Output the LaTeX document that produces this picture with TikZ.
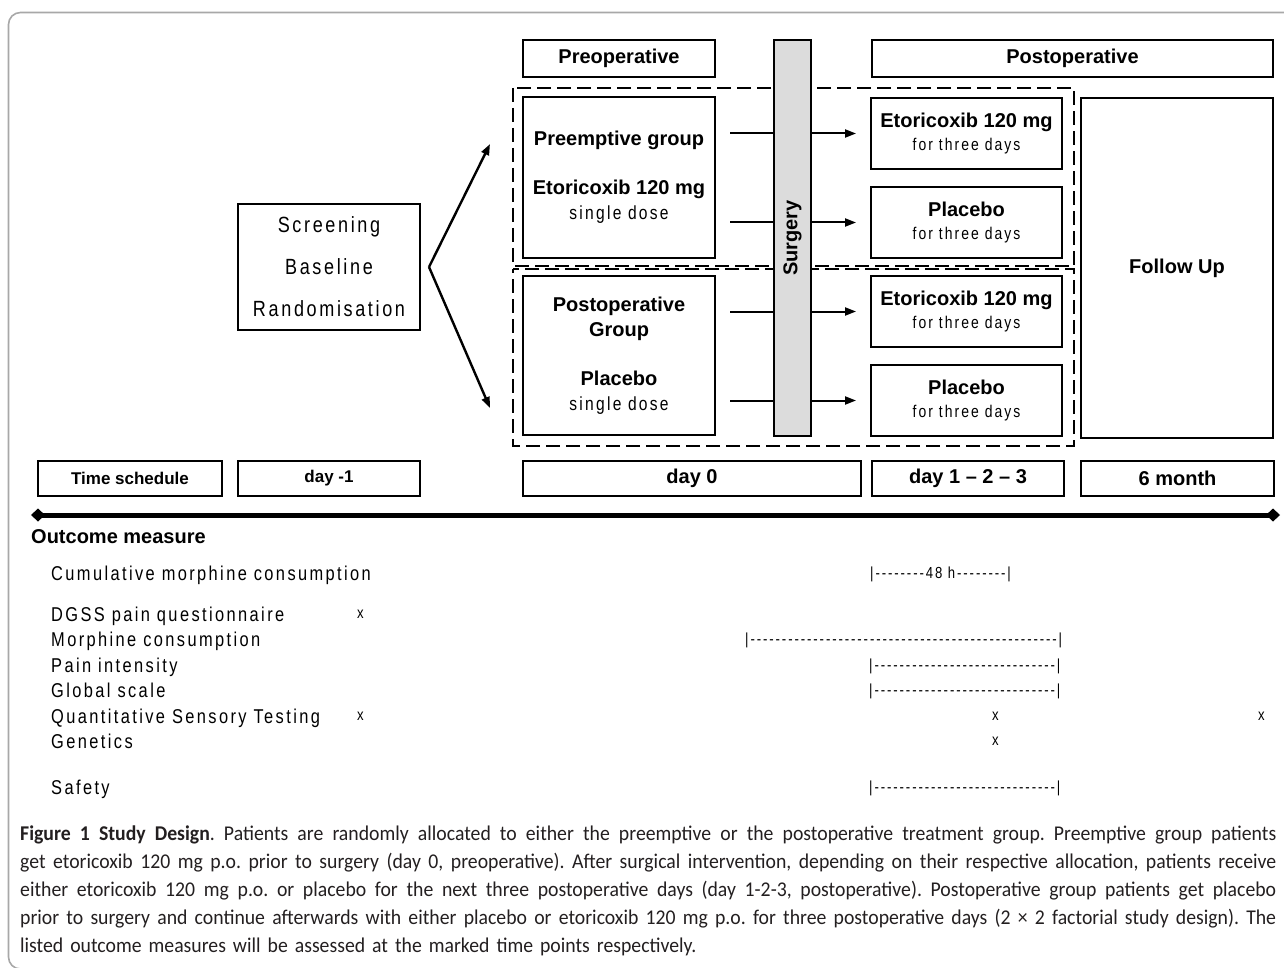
\documentclass[tikz,border=0pt]{standalone}
\usepackage{fontspec}
\setmainfont{Liberation Sans}
\newfontfamily\narrowfont[FakeStretch=0.82, LetterSpace=12, Ligatures=TeXOff]{Liberation Sans}
\newfontfamily\capfont[FakeStretch=0.94]{Carlito}
\usepackage{tikz}
\usetikzlibrary{arrows.meta, positioning, calc}
\definecolor{framegray}{HTML}{A8A8A8}
\definecolor{barfill}{HTML}{DCDCDC}
\definecolor{captext}{HTML}{231F20}
\newcommand\dashes[1]{\foreach\k in {1,...,#1}{-}}
\newcommand\capline[1]{\hbox to 1256pt{\spaceskip=\fontdimen2\font plus 1fil minus 1pt\relax #1}}
\frenchspacing

\begin{document}
\begin{tikzpicture}[x=1pt, y=-1pt, >={Triangle[length=11pt, width=8pt]},
  box/.style={draw, line width=2pt, inner sep=0pt, align=center},
  boldtxt/.style={font=\fontsize{20}{25}\selectfont\bfseries},
  smallbold/.style={font=\fontsize{17}{20}\selectfont\bfseries},
  dashbox/.style={line width=2.8pt, dash pattern=on 14pt off 6pt},
  flow/.style={line width=2pt},
  itemtxt/.style={anchor=base west, inner sep=0pt, font=\narrowfont\fontsize{20}{24}\selectfont},
  rangetxt/.style={anchor=base west, inner sep=0pt, font=\narrowfont\fontsize{16}{18}\selectfont}]

  \useasboundingbox (0,0) rectangle (1284,968);
  \clip (0,0) rectangle (1284,968);
  \draw[framegray, line width=1.6pt, rounded corners=12pt] (8.5,12.5) rectangle (1320,969);

  % treatment arms
  \draw[dashbox] (513,88) rectangle (1074,266);
  \draw[dashbox, dash phase=10pt] (513,269) rectangle (1074,446);

  \node[box, boldtxt, minimum width=192pt, minimum height=37pt] (preop) at (619,58.5) {Preoperative};
  \node[box, boldtxt, minimum width=401pt, minimum height=37pt] (postop) at (1072.5,58.5) {Postoperative};
  \node[box, boldtxt, fill=barfill, minimum width=37pt, minimum height=396pt] (surgery) at (792.5,238) {\rotatebox{90}{Surgery}};

  \node[box, font=\fontsize{20}{25}\selectfont, minimum width=192pt, minimum height=161pt] (pregrp) at (619,177.5)
    {\textbf{Preemptive group}\\[24pt] \textbf{Etoricoxib 120 mg}\\ {\narrowfont\fontsize{19}{25}\selectfont single dose}};
  \node[box, font=\fontsize{20}{25}\selectfont, minimum width=192pt, minimum height=159pt] (postgrp) at (619,355.5)
    {\textbf{Postoperative}\\ \textbf{Group}\\[24pt] \textbf{Placebo}\\ {\narrowfont\fontsize{19}{25}\selectfont single dose}};

  \node[box, font=\fontsize{20}{23}\selectfont, minimum width=191pt, minimum height=71pt] (etoA) at (966.5,133.5)
    {\textbf{Etoricoxib 120 mg}\\ {\narrowfont\fontsize{17}{23}\selectfont for three days}};
  \node[box, font=\fontsize{20}{23}\selectfont, minimum width=191pt, minimum height=71pt, below=16pt of etoA] (placA)
    {\textbf{Placebo}\\ {\narrowfont\fontsize{17}{23}\selectfont for three days}};
  \node[box, font=\fontsize{20}{23}\selectfont, minimum width=191pt, minimum height=71pt, below=16pt of placA] (etoB)
    {\textbf{Etoricoxib 120 mg}\\ {\narrowfont\fontsize{17}{23}\selectfont for three days}};
  \node[box, font=\fontsize{20}{23}\selectfont, minimum width=191pt, minimum height=71pt, below=16pt of etoB] (placB)
    {\textbf{Placebo}\\ {\narrowfont\fontsize{17}{23}\selectfont for three days}};

  \node[box, boldtxt, minimum width=192pt, minimum height=340pt] (follow) at (1177,268) {Follow Up};

  \node[box, font=\narrowfont\fontsize{22}{42}\selectfont, minimum width=182pt, minimum height=126pt] (screen) at (329,267)
    {Screening\\ Baseline\\ Randomisation};

  \coordinate (fork) at ($(screen.east)+(8,0)$);
  \coordinate (toppre) at (490,144);
  \coordinate (toppost) at (490,408);
  \draw[->, line width=2.4pt] (fork) -- (toppre);
  \draw[->, line width=2.4pt] (fork) -- (toppost);

  \draw[flow] ($(pregrp.east |- etoA)+(14,0)$) -- (surgery.west |- etoA);
  \draw[flow, ->] (surgery.east |- etoA) -- ($(etoA.west)+(-14,0)$);
  \draw[flow] ($(pregrp.east |- placA)+(14,0)$) -- (surgery.west |- placA);
  \draw[flow, ->] (surgery.east |- placA) -- ($(placA.west)+(-14,0)$);
  \draw[flow] ($(postgrp.east |- etoB)+(14,0)$) -- (surgery.west |- etoB);
  \draw[flow, ->] (surgery.east |- etoB) -- ($(etoB.west)+(-14,0)$);
  \draw[flow] ($(postgrp.east |- placB)+(14,0)$) -- (surgery.west |- placB);
  \draw[flow, ->] (surgery.east |- placB) -- ($(placB.west)+(-14,0)$);

  % time schedule
  \node[box, smallbold, minimum width=184pt, minimum height=35pt] (tsched) at (130,478.5) {Time schedule};
  \node[box, smallbold, minimum width=182pt, minimum height=35pt, right=14pt of tsched] (dayminus) {day -1};
  \node[box, boldtxt, minimum width=338pt, minimum height=35pt] (day0) at (692,478.5) {day 0};
  \node[box, boldtxt, minimum width=192pt, minimum height=35pt, right=9pt of day0] (day123) {day 1 – 2 – 3};
  \node[box, boldtxt, minimum width=193pt, minimum height=35pt, right=15pt of day123] (sixmo) {6 month};

  \coordinate (tlstart) at (31,515);
  \coordinate (tlend) at (1280,515);
  \draw[line width=5pt, {Diamond[length=14pt, width=13pt]}-{Diamond[length=14pt, width=13pt]}] (tlstart) -- (tlend);

  % outcome measures
  \node[anchor=base west, inner sep=0pt, boldtxt] (outcome) at (31,543) {Outcome measure};
  \node[itemtxt] (om-cum) at (51,580) {Cumulative morphine consumption};
  \node[itemtxt] (om-dgss) at (51,621) {DGSS pain questionnaire};
  \node[itemtxt] (om-morph) at (51,646) {Morphine consumption};
  \node[itemtxt] (om-pain) at (51,672) {Pain intensity};
  \node[itemtxt] (om-glob) at (51,697) {Global scale};
  \node[itemtxt] (om-qst) at (51,723) {Quantitative Sensory Testing};
  \node[itemtxt] (om-gen) at (51,748) {Genetics};
  \node[itemtxt] (om-safe) at (51,794) {Safety};

  \node[rangetxt] (r-cum) at (870,578) {|\dashes{8}48 h\dashes{8}|};
  \node[rangetxt] (r-morph) at (745,644) {|\dashes{49}|};
  \node[rangetxt] (r-pain) at (869,670) {|\dashes{29}|};
  \node[rangetxt] (r-glob) at (869,695) {|\dashes{29}|};
  \node[rangetxt] (r-safe) at (869,792) {|\dashes{29}|};

  \node[rangetxt] (mk-dgss) at (357,618) {x};
  \node[rangetxt] (mk-qst0) at (357,720) {x};
  \node[rangetxt] (mk-qst3) at (992,720) {x};
  \node[rangetxt] (mk-qst6) at (1258,720) {x};
  \node[rangetxt] (mk-gen) at (992,745) {x};

  % caption
  \node[anchor=base west, inner sep=0pt, text width=1256pt, text=captext,
        font=\capfont\fontsize{21}{28}\selectfont] (caption) at (20,840)
    {\capline{\textbf{Figure 1 Study Design}. Patients are randomly allocated to either the preemptive or the postoperative treatment group. Preemptive group patients}
     \capline{get etoricoxib 120 mg p.o. prior to surgery (day 0, preoperative). After surgical intervention, depending on their respective allocation, patients receive}
     \capline{either etoricoxib 120 mg p.o. or placebo for the next three postoperative days (day 1-2-3, postoperative). Postoperative group patients get placebo}
     \capline{prior to surgery and continue afterwards with either placebo or etoricoxib 120 mg p.o. for three postoperative days (2 × 2 factorial study design). The}
     \hbox{listed outcome measures will be assessed at the marked time points respectively.}};
\end{tikzpicture}
\end{document}
